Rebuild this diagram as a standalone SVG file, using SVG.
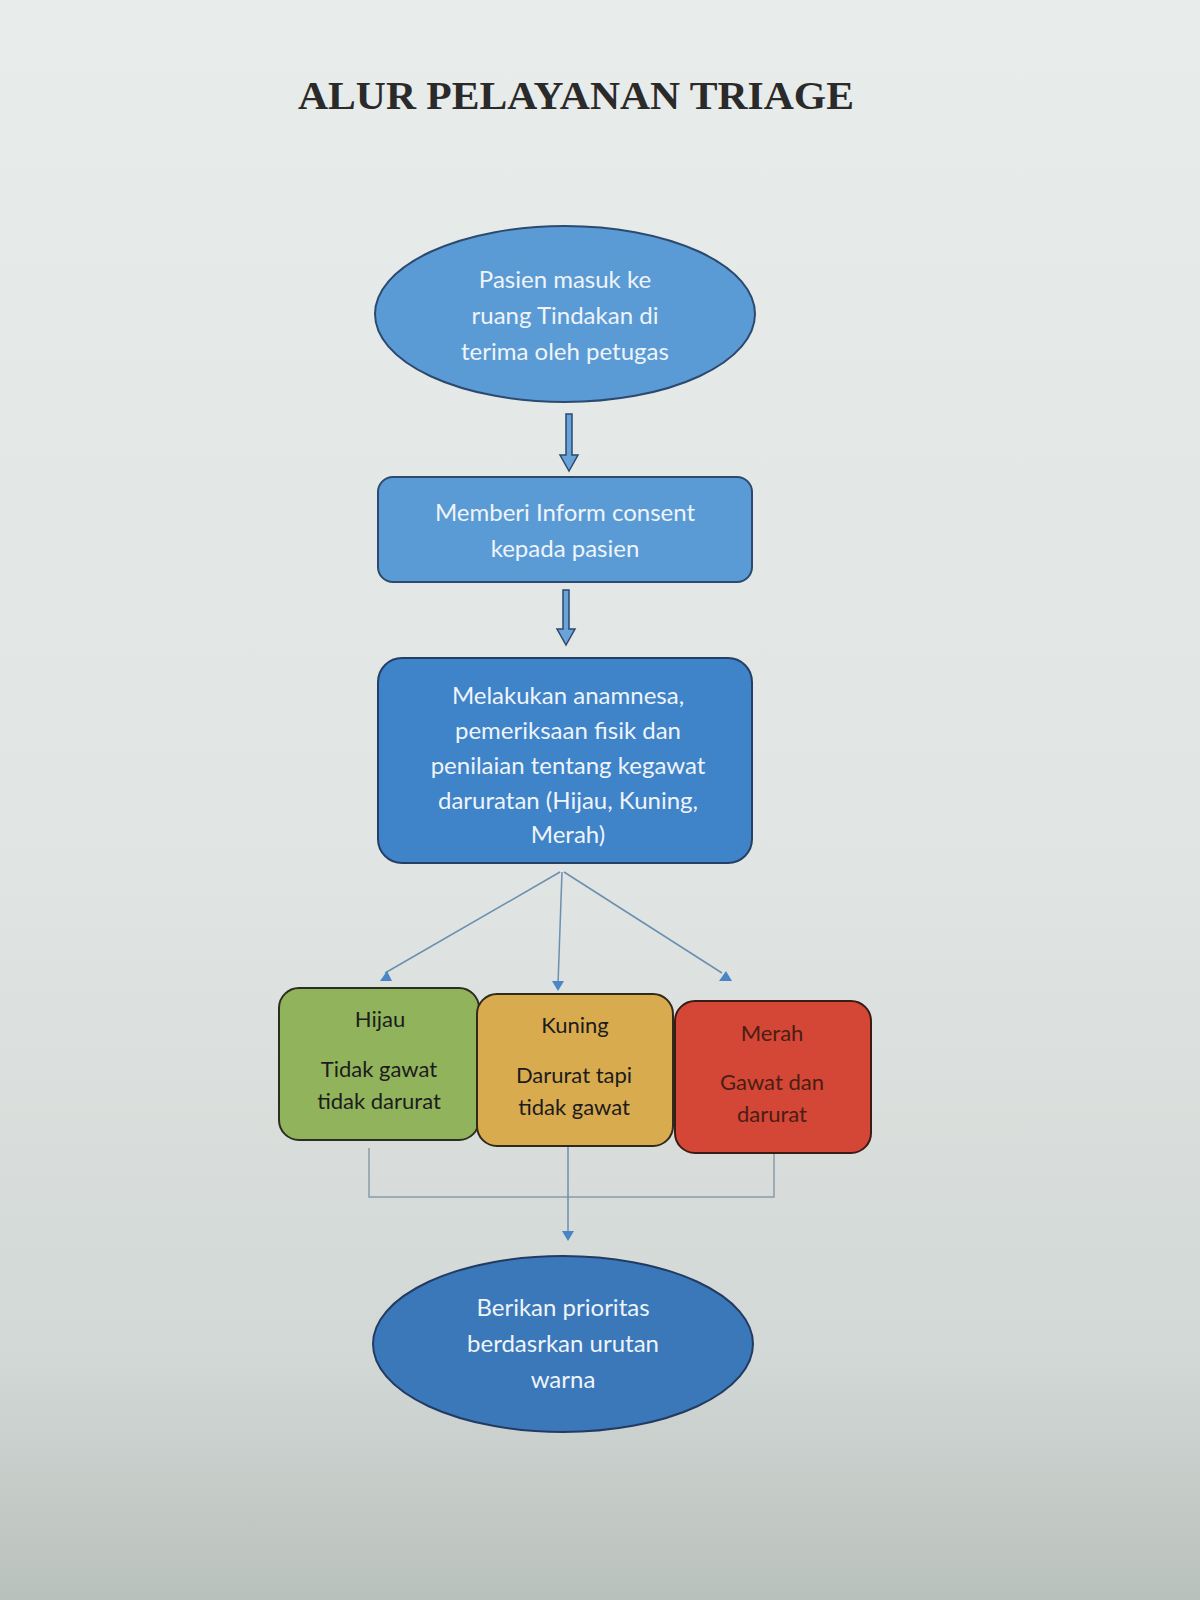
<svg xmlns="http://www.w3.org/2000/svg" width="1200" height="1600" viewBox="0 0 1200 1600">
<defs>
<linearGradient id="bg" x1="0" y1="0" x2="0" y2="1">
<stop offset="0" stop-color="#e8ecea"/>
<stop offset="0.55" stop-color="#e0e4e2"/>
<stop offset="0.85" stop-color="#d2d8d5"/>
<stop offset="1" stop-color="#b9c1bd"/>
</linearGradient>
<style>
.title{font-family:"Liberation Serif",serif;font-weight:bold;font-size:39px;fill:#2a2a2a;}
.wt{font-family:Lato,"Open Sans",sans-serif;font-size:24px;fill:#eef4fa;text-anchor:middle;}
.bt{font-family:Lato,"Open Sans",sans-serif;font-size:22px;fill:#1c1c1c;text-anchor:middle;}
.rt{font-family:Lato,"Open Sans",sans-serif;font-size:22px;fill:#4a1e14;text-anchor:middle;}
.blue{fill:#5b9bd5;stroke:#2c4a70;stroke-width:2;}
.blue2{fill:#3f83c8;stroke:#253f66;stroke-width:2;}
.blue3{fill:#3a78b9;stroke:#233b62;stroke-width:2;}
.barrow{fill:#6aa3d8;stroke:#2c4a70;stroke-width:1.5;}
.conn{fill:none;stroke:#6b8fb0;stroke-width:1.5;}
.bracket{fill:none;stroke:#8a9aa8;stroke-width:1.5;}
</style>
</defs>
<rect x="0" y="0" width="1200" height="1600" fill="url(#bg)"/>
<text class="title" x="576" y="109" text-anchor="middle" textLength="556" lengthAdjust="spacingAndGlyphs">ALUR PELAYANAN TRIAGE</text>

<g id="connectors">
<path class="barrow" d="M566,414 L572,414 L572,455 L578,455 L569,471 L560,455 L566,455 Z"/>
<path class="barrow" d="M563,590 L569,590 L569,629 L575,629 L566,645 L557,629 L563,629 Z"/>
<line class="conn" x1="560" y1="872" x2="385" y2="973"/>
<line class="conn" x1="562" y1="872" x2="558" y2="984"/>
<line class="conn" x1="564" y1="872" x2="722" y2="973"/>
<path d="M380,981 L387,971 L392,981 Z" fill="#4a86c5"/>
<path d="M552,981 L564,981 L558,991 Z" fill="#4a86c5"/>
<path d="M719,981 L726,971 L732,981 Z" fill="#4a86c5"/>
<polyline class="bracket" points="369,1148 369,1197 774,1197 774,1154"/>
<line class="conn" x1="568" y1="1146" x2="568" y2="1232"/>
<path d="M562,1231 L574,1231 L568,1241 Z" fill="#4a86c5"/>
</g>

<g id="n1">
<ellipse class="blue" cx="565" cy="314" rx="190" ry="88"/>
<text class="wt" x="565" y="288">Pasien masuk ke</text>
<text class="wt" x="565" y="324">ruang Tindakan di</text>
<text class="wt" x="565" y="360">terima oleh petugas</text>
</g>

<g id="n2">
<rect class="blue" x="378" y="477" width="374" height="105" rx="15"/>
<text class="wt" x="565" y="521">Memberi Inform consent</text>
<text class="wt" x="565" y="557">kepada pasien</text>
</g>

<g id="n3">
<rect class="blue2" x="378" y="658" width="374" height="205" rx="24"/>
<text class="wt" x="568" y="704">Melakukan anamnesa,</text>
<text class="wt" x="568" y="739">pemeriksaan fisik dan</text>
<text class="wt" x="568" y="774">penilaian tentang kegawat</text>
<text class="wt" x="568" y="809">daruratan (Hijau, Kuning,</text>
<text class="wt" x="568" y="843">Merah)</text>
</g>

<g id="hijau">
<rect x="279" y="988" width="200" height="152" rx="20" fill="#91b35c" stroke="#2a2f22" stroke-width="2"/>
<text class="bt" x="380" y="1027">Hijau</text>
<text class="bt" x="379" y="1077">Tidak gawat</text>
<text class="bt" x="379" y="1109">tidak darurat</text>
</g>

<g id="kuning">
<rect x="477" y="994" width="196" height="152" rx="20" fill="#d9ab4f" stroke="#2f2a1c" stroke-width="2"/>
<text class="bt" x="575" y="1033">Kuning</text>
<text class="bt" x="574" y="1083">Darurat tapi</text>
<text class="bt" x="574" y="1115">tidak gawat</text>
</g>

<g id="merah">
<rect x="675" y="1001" width="196" height="152" rx="20" fill="#d44635" stroke="#3a1c16" stroke-width="2"/>
<text class="rt" x="772" y="1041">Merah</text>
<text class="rt" x="772" y="1090">Gawat dan</text>
<text class="rt" x="772" y="1122">darurat</text>
</g>

<g id="n4">
<ellipse class="blue3" cx="563" cy="1344" rx="190" ry="88"/>
<text class="wt" x="563" y="1316" fill="#dce8f5">Berikan prioritas</text>
<text class="wt" x="563" y="1352">berdasrkan urutan</text>
<text class="wt" x="563" y="1388">warna</text>
</g>
</svg>
